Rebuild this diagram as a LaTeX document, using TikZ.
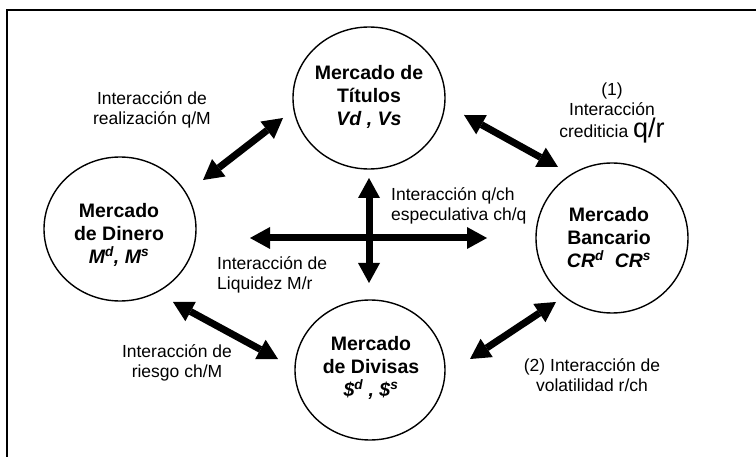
\documentclass[tikz,border=0pt]{standalone}
\usepackage{fontspec}
\setmainfont{Liberation Sans}
\usetikzlibrary{arrows.meta,shapes.geometric}
\begin{document}
\begin{tikzpicture}[x=1pt,y=-1pt,
  market/.style={draw, ellipse, line width=1.4pt, inner sep=0pt},
  mtext/.style={align=center, font=\fontsize{19.5}{23}\selectfont\bfseries, inner sep=0pt},
  lbl/.style={align=center, font=\fontsize{17.5}{20.5}\selectfont, inner sep=0pt},
  lbll/.style={lbl, align=left, anchor=west},
  tipx/.tip={Triangle[length=20pt,width=22pt,line width=0pt]},
  biarrow/.style={line width=7pt, tipx-tipx}
]
\useasboundingbox (0,0) rectangle (756,457);
\draw[line width=2pt] (770,10) -- (7,10) -- (7,470);

% markets
\node[market, minimum width=152pt, minimum height=142pt] (tit) at (369,98) {};
\node[market, minimum width=152pt, minimum height=144pt] (din) at (120,229) {};
\node[market, minimum width=150pt, minimum height=140pt] (div) at (370,370) {};
\node[market, minimum width=152pt, minimum height=150pt] (ban) at (612,238) {};

\node[mtext] (titT) at (369,97) {Mercado de\\T\'itulos\\\textit{Vd , Vs}};
\node[mtext] (dinT) at (119,235) {Mercado\\de Dinero\\\textit{M\textsuperscript{d}, M\textsuperscript{s}}};
\node[mtext] (divT) at (371,368) {Mercado\\de Divisas\\\textit{\$\textsuperscript{d} , \$\textsuperscript{s}}};
\node[mtext] (banT) at (609,238) {Mercado\\Bancario\\\textit{CR\textsuperscript{d}\ \ CR\textsuperscript{s}}};

% arrow end points
\coordinate (a1s) at (203,180); \coordinate (a1e) at (283,118);
\coordinate (a2s) at (464,115); \coordinate (a2e) at (558,167);
\coordinate (a3s) at (173,302); \coordinate (a3e) at (278,359);
\coordinate (a4s) at (470,359); \coordinate (a4e) at (556,302);
\coordinate (hs) at (250,238); \coordinate (he) at (487,238);
\coordinate (vs) at (369,178); \coordinate (ve) at (369,283);

\draw[biarrow] (a1s) -- (a1e);
\draw[biarrow] (a2s) -- (a2e);
\draw[biarrow] (a3s) -- (a3e);
\draw[biarrow] (a4s) -- (a4e);
\draw[biarrow] (hs) -- (he);
\draw[biarrow] (vs) -- (ve);

% labels
\node[lbl] (l1) at (152,110) {Interacci\'on de\\realizaci\'on q/M};
\node[lbl] (l2) at (612,112) {(1)\\Interacci\'on\\[1.5pt]crediticia \raisebox{0pt}[13pt][4pt]{\fontsize{27}{27}\selectfont q/r}};
\node[lbll] (l3) at (391,206) {Interacci\'on q/ch\\especulativa ch/q};
\node[lbll] (l4) at (217,275) {Interacci\'on de\\Liquidez M/r};
\node[lbl] (l5) at (177,363) {Interacci\'on de\\riesgo ch/M};
\node[lbl] (l6) at (592,375) {(2) Interacci\'on de\\volatilidad r/ch};
\end{tikzpicture}
\end{document}
